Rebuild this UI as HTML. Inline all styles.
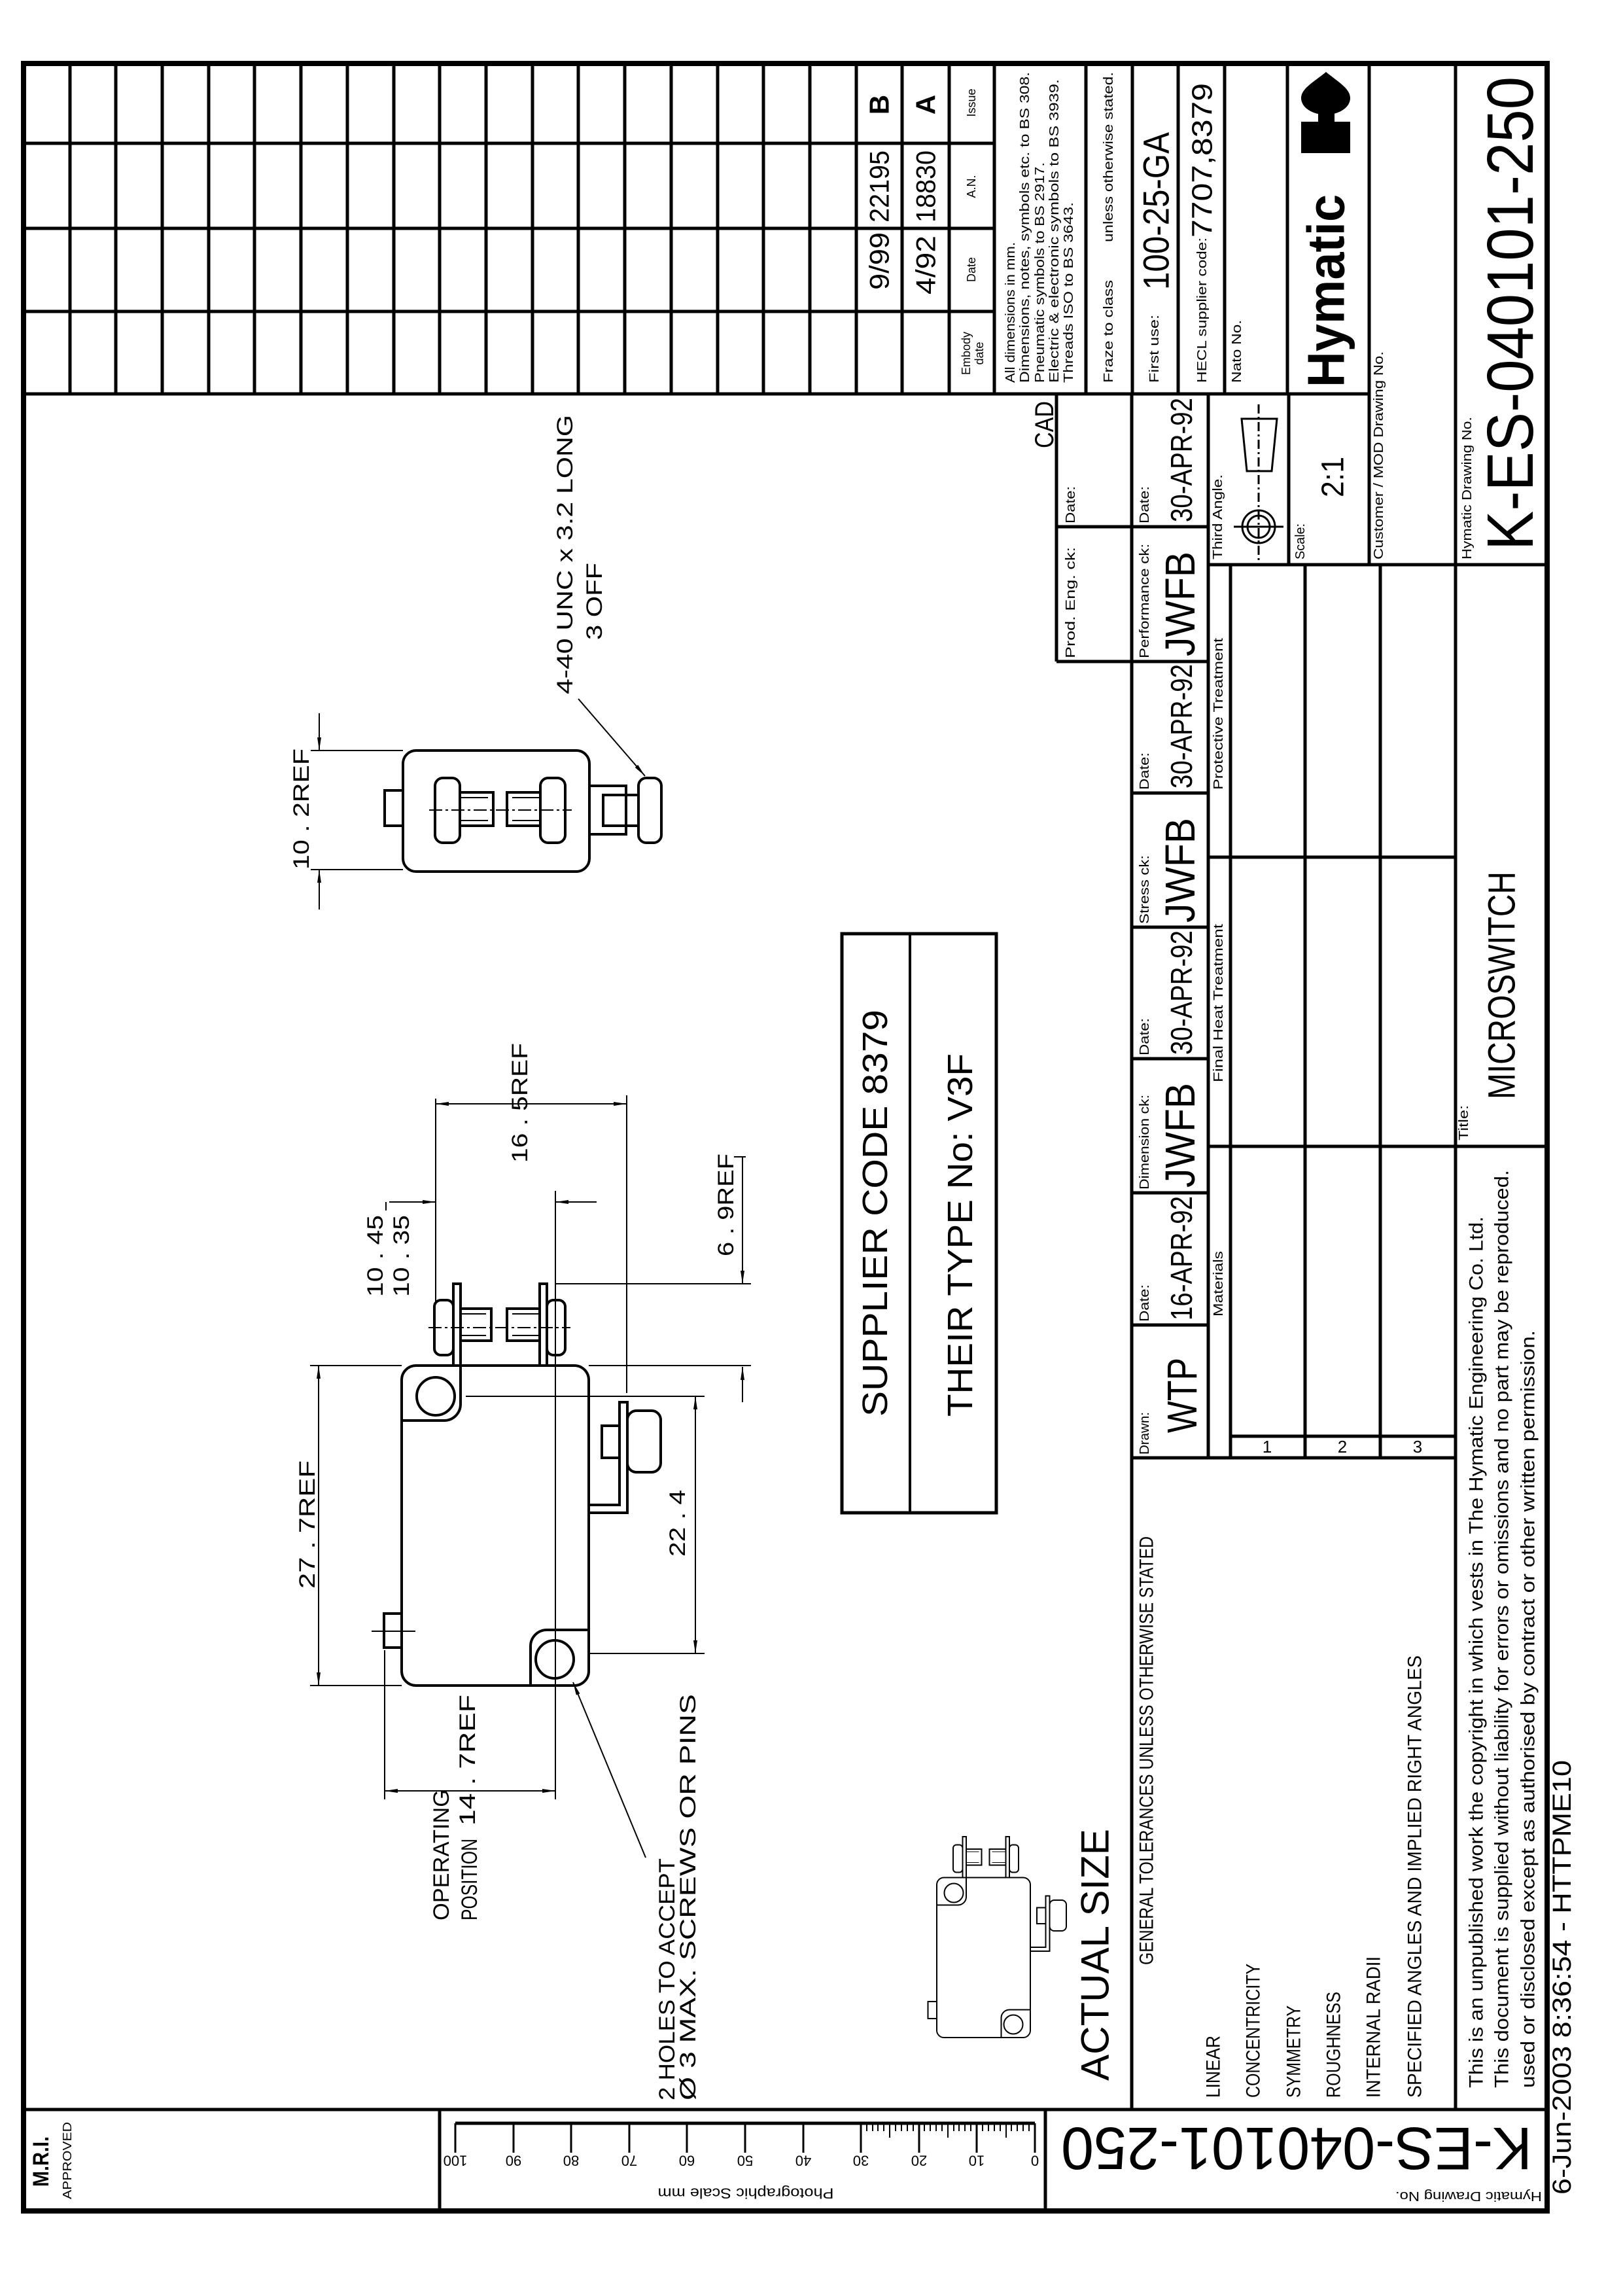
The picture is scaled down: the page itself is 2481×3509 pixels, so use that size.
<!DOCTYPE html>
<html><head><meta charset="utf-8"><style>
html,body{margin:0;padding:0;background:#fff}
svg{display:block}
text{font-family:"Liberation Sans",sans-serif;dominant-baseline:central;fill:#000}
.f{fill:none;stroke:#000}
</style></head><body>
<svg xmlns="http://www.w3.org/2000/svg" width="2481" height="3509" viewBox="0 0 2481 3509">
<defs>
<marker id="a" viewBox="0 0 20 6" refX="20" refY="3" markerWidth="20" markerHeight="6" markerUnits="userSpaceOnUse" orient="auto-start-reverse"><path d="M0,0 L20,3 L0,6 Z" fill="#000"/></marker>
</defs>
<rect width="2481" height="3509" fill="#fff"/>
<g class="f" stroke-width="8"><rect x="36" y="97" width="2329" height="3282"/></g>
<g class="f" stroke-width="5">
<line x1="36" y1="3224" x2="2365" y2="3224"/>
<line x1="672" y1="3224" x2="672" y2="3379"/>
<line x1="1598" y1="3224" x2="1598" y2="3379"/>
<line x1="36" y1="219" x2="1520" y2="219"/><line x1="36" y1="349" x2="1520" y2="349"/><line x1="36" y1="476" x2="1520" y2="476"/>
<line x1="36" y1="602" x2="2093" y2="602"/>
<line x1="107" y1="97" x2="107" y2="602"/><line x1="177" y1="97" x2="177" y2="602"/><line x1="248" y1="97" x2="248" y2="602"/><line x1="319" y1="97" x2="319" y2="602"/><line x1="389" y1="97" x2="389" y2="602"/><line x1="460" y1="97" x2="460" y2="602"/><line x1="531" y1="97" x2="531" y2="602"/><line x1="602" y1="97" x2="602" y2="602"/><line x1="672" y1="97" x2="672" y2="602"/><line x1="743" y1="97" x2="743" y2="602"/><line x1="814" y1="97" x2="814" y2="602"/><line x1="884" y1="97" x2="884" y2="602"/><line x1="955" y1="97" x2="955" y2="602"/><line x1="1026" y1="97" x2="1026" y2="602"/><line x1="1097" y1="97" x2="1097" y2="602"/><line x1="1167" y1="97" x2="1167" y2="602"/><line x1="1238" y1="97" x2="1238" y2="602"/>
<line x1="1309" y1="97" x2="1309" y2="602"/><line x1="1379" y1="97" x2="1379" y2="602"/><line x1="1451" y1="97" x2="1451" y2="602"/><line x1="1520" y1="97" x2="1520" y2="602"/><line x1="1660" y1="97" x2="1660" y2="602"/><line x1="1731" y1="97" x2="1731" y2="602"/><line x1="1801" y1="97" x2="1801" y2="602"/><line x1="1872" y1="97" x2="1872" y2="602"/><line x1="1968" y1="97" x2="1968" y2="602"/>
<line x1="2093" y1="97" x2="2093" y2="863"/>
<line x1="2225" y1="97" x2="2225" y2="3224"/>
<line x1="1847" y1="863" x2="2365" y2="863"/>
<line x1="1615" y1="602" x2="1615" y2="1011"/>
<line x1="1615" y1="805" x2="1847" y2="805"/><line x1="1615" y1="1011" x2="1847" y2="1011"/>
<line x1="1730" y1="602" x2="1730" y2="3224"/>
<line x1="1847" y1="602" x2="1847" y2="2228"/>
<line x1="1730" y1="1212" x2="1847" y2="1212"/><line x1="1730" y1="1417" x2="1847" y2="1417"/><line x1="1730" y1="1618" x2="1847" y2="1618"/><line x1="1730" y1="1823" x2="1847" y2="1823"/><line x1="1730" y1="2025" x2="1847" y2="2025"/>
<line x1="1970" y1="602" x2="1970" y2="863"/>
<line x1="1881" y1="863" x2="1881" y2="2228"/><line x1="1995" y1="863" x2="1995" y2="2228"/><line x1="2110" y1="863" x2="2110" y2="2228"/>
<line x1="1847" y1="1310" x2="2225" y2="1310"/><line x1="1847" y1="1752" x2="2365" y2="1752"/>
<line x1="1881" y1="2195" x2="2225" y2="2195"/><line x1="1730" y1="2228" x2="2225" y2="2228"/>
</g>
<g class="f" stroke-width="3">
<line x1="696" y1="3245" x2="1582" y2="3245" stroke-width="5"/>
<path d="M1582 3245V3290M1493 3245V3290M1405 3245V3290M1316 3245V3290M1228 3245V3290M1139 3245V3290M1050 3245V3290M962 3245V3290M873 3245V3290M785 3245V3290M696 3245V3290"/>
<path stroke-width="2" d="M1573 3245v12M1564 3245v12M1555 3245v12M1546 3245v12M1538 3245v22M1529 3245v12M1520 3245v12M1511 3245v12M1502 3245v12M1484 3245v12M1475 3245v12M1466 3245v12M1458 3245v12M1449 3245v22M1440 3245v12M1431 3245v12M1422 3245v12M1413 3245v12M1396 3245v12M1387 3245v12M1378 3245v12M1369 3245v12M1360 3245v22M1351 3245v12M1342 3245v12M1334 3245v12M1325 3245v12"/>
</g>
<g font-size="22">
<text transform="translate(1582,3302) rotate(180)" text-anchor="middle">0</text>
<text transform="translate(1493,3302) rotate(180)" text-anchor="middle">10</text>
<text transform="translate(1405,3302) rotate(180)" text-anchor="middle">20</text>
<text transform="translate(1316,3302) rotate(180)" text-anchor="middle">30</text>
<text transform="translate(1228,3302) rotate(180)" text-anchor="middle">40</text>
<text transform="translate(1139,3302) rotate(180)" text-anchor="middle">50</text>
<text transform="translate(1050,3302) rotate(180)" text-anchor="middle">60</text>
<text transform="translate(962,3302) rotate(180)" text-anchor="middle">70</text>
<text transform="translate(873,3302) rotate(180)" text-anchor="middle">80</text>
<text transform="translate(785,3302) rotate(180)" text-anchor="middle">90</text>
<text transform="translate(696,3302) rotate(180)" text-anchor="middle">100</text>
<text transform="translate(1140,3352) rotate(180)" text-anchor="middle" textLength="269" lengthAdjust="spacingAndGlyphs">Photographic Scale mm</text>
<text transform="translate(2245,3356) rotate(180)" text-anchor="middle" font-size="20" textLength="224" lengthAdjust="spacingAndGlyphs">Hymatic Drawing No.</text>
</g>
<text transform="translate(1982,3283) rotate(180)" text-anchor="middle" font-size="92" textLength="720" lengthAdjust="spacingAndGlyphs">K-ES-040101-250</text>
<text transform="translate(63,3342) rotate(-90)" font-size="34" font-weight="bold" textLength="77" lengthAdjust="spacingAndGlyphs">M.R.I.</text>
<text transform="translate(103,3361) rotate(-90)" font-size="18" textLength="118" lengthAdjust="spacingAndGlyphs">APPROVED</text>
<text transform="translate(2388,3354) rotate(-90)" font-size="40" textLength="664" lengthAdjust="spacingAndGlyphs">6-Jun-2003  8:36:54 - HTTPME10</text>

<g font-size="42">
<text transform="translate(1344,160) rotate(-90)" text-anchor="middle" font-weight="bold">B</text>
<text transform="translate(1415,160) rotate(-90)" text-anchor="middle" font-weight="bold">A</text>
<text transform="translate(1344,340) rotate(-90)" textLength="110" lengthAdjust="spacingAndGlyphs">22195</text>
<text transform="translate(1415,340) rotate(-90)" textLength="110" lengthAdjust="spacingAndGlyphs">18830</text>
<text transform="translate(1344,443) rotate(-90)" textLength="88" lengthAdjust="spacingAndGlyphs">9/99</text>
<text transform="translate(1415,450) rotate(-90)" textLength="90" lengthAdjust="spacingAndGlyphs">4/92</text>
</g>
<g font-size="18">
<text transform="translate(1485,157) rotate(-90)" text-anchor="middle">Issue</text>
<text transform="translate(1485,285) rotate(-90)" text-anchor="middle">A.N.</text>
<text transform="translate(1485,412) rotate(-90)" text-anchor="middle">Date</text>
<text transform="translate(1477,540) rotate(-90)" text-anchor="middle">Embody</text>
<text transform="translate(1497,540) rotate(-90)" text-anchor="middle">date</text>
</g>
<g font-size="20">
<text transform="translate(1545,585) rotate(-90)" textLength="215" lengthAdjust="spacingAndGlyphs">All dimensions in mm.</text>
<text transform="translate(1567,585) rotate(-90)" textLength="475" lengthAdjust="spacingAndGlyphs">Dimensions, notes, symbols etc. to BS 308.</text>
<text transform="translate(1590,585) rotate(-90)" textLength="337" lengthAdjust="spacingAndGlyphs">Pneumatic symbols to BS 2917.</text>
<text transform="translate(1612,585) rotate(-90)" textLength="464" lengthAdjust="spacingAndGlyphs">Electric &amp; electronic symbols to BS 3939.</text>
<text transform="translate(1634,585) rotate(-90)" textLength="276" lengthAdjust="spacingAndGlyphs">Threads ISO to BS 3643.</text>
<text transform="translate(1695,585) rotate(-90)" textLength="157" lengthAdjust="spacingAndGlyphs">Fraze to class</text>
<text transform="translate(1695,370) rotate(-90)" textLength="260" lengthAdjust="spacingAndGlyphs">unless otherwise stated.</text>
<text transform="translate(1765,585) rotate(-90)" textLength="104" lengthAdjust="spacingAndGlyphs">First use:</text>
<text transform="translate(1838,585) rotate(-90)" textLength="222" lengthAdjust="spacingAndGlyphs">HECL supplier code:</text>
<text transform="translate(1891,585) rotate(-90)" textLength="96" lengthAdjust="spacingAndGlyphs">Nato No.</text>
<text transform="translate(2108,855) rotate(-90)" textLength="318" lengthAdjust="spacingAndGlyphs">Customer / MOD Drawing No.</text>
<text transform="translate(2243,855) rotate(-90)" textLength="218" lengthAdjust="spacingAndGlyphs">Hymatic Drawing No.</text>
<text transform="translate(1862,855) rotate(-90)" textLength="130" lengthAdjust="spacingAndGlyphs">Third Angle.</text>
<text transform="translate(1988,855) rotate(-90)" textLength="55" lengthAdjust="spacingAndGlyphs">Scale:</text>
<text transform="translate(2238,1743) rotate(-90)" textLength="54" lengthAdjust="spacingAndGlyphs">Title:</text>
<text transform="translate(1863,1207) rotate(-90)" textLength="232" lengthAdjust="spacingAndGlyphs">Protective Treatment</text>
<text transform="translate(1863,1654) rotate(-90)" textLength="242" lengthAdjust="spacingAndGlyphs">Final Heat Treatment</text>
<text transform="translate(1863,2012) rotate(-90)" textLength="100" lengthAdjust="spacingAndGlyphs">Materials</text>
<text transform="translate(1637,1006) rotate(-90)" textLength="170" lengthAdjust="spacingAndGlyphs">Prod. Eng. ck:</text>
<text transform="translate(1637,800) rotate(-90)" textLength="57" lengthAdjust="spacingAndGlyphs">Date:</text>
<text transform="translate(1750,800) rotate(-90)" textLength="57" lengthAdjust="spacingAndGlyphs">Date:</text>
<text transform="translate(1750,1006) rotate(-90)" textLength="175" lengthAdjust="spacingAndGlyphs">Performance ck:</text>
<text transform="translate(1750,1207) rotate(-90)" textLength="57" lengthAdjust="spacingAndGlyphs">Date:</text>
<text transform="translate(1750,1412) rotate(-90)" textLength="105" lengthAdjust="spacingAndGlyphs">Stress ck:</text>
<text transform="translate(1750,1613) rotate(-90)" textLength="57" lengthAdjust="spacingAndGlyphs">Date:</text>
<text transform="translate(1750,1818) rotate(-90)" textLength="145" lengthAdjust="spacingAndGlyphs">Dimension ck:</text>
<text transform="translate(1750,2020) rotate(-90)" textLength="57" lengthAdjust="spacingAndGlyphs">Date:</text>
<text transform="translate(1750,2223) rotate(-90)" textLength="65" lengthAdjust="spacingAndGlyphs">Drawn:</text>
</g>
<g font-size="46">
<text transform="translate(1806,798) rotate(-90)" textLength="190" lengthAdjust="spacingAndGlyphs">30-APR-92</text>
<text transform="translate(1806,1205) rotate(-90)" textLength="190" lengthAdjust="spacingAndGlyphs">30-APR-92</text>
<text transform="translate(1806,1612) rotate(-90)" textLength="190" lengthAdjust="spacingAndGlyphs">30-APR-92</text>
<text transform="translate(1806,2018) rotate(-90)" textLength="190" lengthAdjust="spacingAndGlyphs">16-APR-92</text>
</g>
<g font-size="64">
<text transform="translate(1804,1003) rotate(-90)" textLength="160" lengthAdjust="spacingAndGlyphs">JWFB</text>
<text transform="translate(1804,1410) rotate(-90)" textLength="160" lengthAdjust="spacingAndGlyphs">JWFB</text>
<text transform="translate(1804,1815) rotate(-90)" textLength="160" lengthAdjust="spacingAndGlyphs">JWFB</text>
<text transform="translate(1807,2190) rotate(-90)" textLength="115" lengthAdjust="spacingAndGlyphs">WTP</text>
</g>
<text transform="translate(1597,685) rotate(-90)" font-size="40" textLength="72" lengthAdjust="spacingAndGlyphs">CAD</text>
<text transform="translate(1767,443) rotate(-90)" font-size="56" textLength="241" lengthAdjust="spacingAndGlyphs">100-25-GA</text>
<text transform="translate(1838,363) rotate(-90)" font-size="44" textLength="236" lengthAdjust="spacingAndGlyphs">7707,8379</text>
<text transform="translate(2027,592) rotate(-90)" font-size="80" font-weight="bold" textLength="295" lengthAdjust="spacingAndGlyphs">Hymatic</text>
<path d="M2027,110 C2045,125 2064,135 2064,150 A37 25 0 0 1 1989,150 C1989,135 2009,125 2027,110 Z" fill="#000"/>
<rect x="2015" y="170" width="25" height="20" fill="#000"/>
<rect x="1989" y="186" width="75" height="48" fill="#000"/>
<text transform="translate(2309,841) rotate(-90)" font-size="100" textLength="724" lengthAdjust="spacingAndGlyphs">K-ES-040101-250</text>
<text transform="translate(2038,729) rotate(-90)" text-anchor="middle" font-size="48" textLength="62" lengthAdjust="spacingAndGlyphs">2:1</text>
<text transform="translate(2296,1680) rotate(-90)" font-size="58" textLength="348" lengthAdjust="spacingAndGlyphs">MICROSWITCH</text>
<g class="f" stroke-width="3">
<circle cx="1924" cy="805" r="25"/><circle cx="1924" cy="805" r="17"/>
<line x1="1886" y1="805" x2="1962" y2="805"/>
<line x1="1924" y1="618" x2="1924" y2="859" stroke-dasharray="14 5 3 5"/>
<path d="M1898,640 L1952,640 L1944,720 L1906,720 Z"/>
</g>
<g font-size="26">
<text x="1937" y="2211" text-anchor="middle">1</text>
<text x="2052" y="2211" text-anchor="middle">2</text>
<text x="2167" y="2211" text-anchor="middle">3</text>
</g>
<g font-size="30">
<text transform="translate(1753,3003) rotate(-90)" textLength="655" lengthAdjust="spacingAndGlyphs">GENERAL TOLERANCES UNLESS OTHERWISE STATED</text>
<text transform="translate(1855,3206) rotate(-90)" textLength="95" lengthAdjust="spacingAndGlyphs">LINEAR</text>
<text transform="translate(1916,3206) rotate(-90)" textLength="205" lengthAdjust="spacingAndGlyphs">CONCENTRICITY</text>
<text transform="translate(1978,3206) rotate(-90)" textLength="141" lengthAdjust="spacingAndGlyphs">SYMMETRY</text>
<text transform="translate(2039,3206) rotate(-90)" textLength="162" lengthAdjust="spacingAndGlyphs">ROUGHNESS</text>
<text transform="translate(2100,3206) rotate(-90)" textLength="216" lengthAdjust="spacingAndGlyphs">INTERNAL RADII</text>
<text transform="translate(2163,3206) rotate(-90)" textLength="676" lengthAdjust="spacingAndGlyphs">SPECIFIED ANGLES AND IMPLIED RIGHT ANGLES</text>
<text transform="translate(2257,3191) rotate(-90)" textLength="1332" lengthAdjust="spacingAndGlyphs">This is an unpublished work the copyright in which vests in The Hymatic Engineering Co. Ltd.</text>
<text transform="translate(2296,3191) rotate(-90)" textLength="1403" lengthAdjust="spacingAndGlyphs">This document is supplied without liability for errors or omissions and no part may be reproduced.</text>
<text transform="translate(2336,3191) rotate(-90)" textLength="1158" lengthAdjust="spacingAndGlyphs">used or disclosed except as authorised by contract or other written permission.</text>
</g>
<text transform="translate(1674,3180) rotate(-90)" font-size="60" textLength="385" lengthAdjust="spacingAndGlyphs">ACTUAL SIZE</text>

<rect x="1287" y="1427" width="236" height="885" class="f" stroke-width="5"/>
<line x1="1391" y1="1427" x2="1391" y2="2312" stroke="#000" stroke-width="4"/>
<text transform="translate(1338,2165) rotate(-90)" font-size="54" textLength="622" lengthAdjust="spacingAndGlyphs">SUPPLIER CODE 8379</text>
<text transform="translate(1468,2165) rotate(-90)" font-size="54" textLength="555" lengthAdjust="spacingAndGlyphs">THEIR TYPE No: V3F</text>

<g id="sw" class="f" stroke-width="4">
<rect x="614" y="2087" width="286" height="489" rx="22"/>
<path d="M704,2087 V2146 A25 25 0 0 1 679,2171 H614"/>
<circle cx="666" cy="2134" r="29"/>
<path d="M811,2576 V2516 A25 25 0 0 1 836,2491 H900"/>
<circle cx="848" cy="2536" r="29"/>
<rect x="587" y="2466" width="27" height="52"/>
<rect x="693" y="1962" width="11" height="125"/>
<rect x="664" y="1987" width="29" height="84" rx="10"/>
<rect x="704" y="2000" width="47" height="49"/>
<line x1="704" y1="2008" x2="743" y2="2008" stroke-width="2"/><line x1="704" y1="2041" x2="743" y2="2041" stroke-width="2"/>
<rect x="825" y="1962" width="11" height="125"/>
<rect x="836" y="1987" width="28" height="84" rx="10"/>
<rect x="775" y="2000" width="50" height="49"/>
<line x1="783" y1="2008" x2="825" y2="2008" stroke-width="2"/><line x1="783" y1="2041" x2="825" y2="2041" stroke-width="2"/>
<path d="M900,2312 H959 V2143 H947 V2300 H900"/>
<rect x="959" y="2156" width="51" height="94" rx="14"/>
<rect x="920" y="2179" width="27" height="49"/>
</g>
<use href="#sw" transform="translate(1125,1826) scale(0.5)"/>
<g class="f" stroke-width="2">
<line x1="655" y1="2029" x2="872" y2="2029" stroke-dasharray="20 5 4 5"/>
<line x1="568" y1="2493" x2="635" y2="2493"/>
<line x1="487" y1="2087" x2="487" y2="2576" marker-start="url(#a)" marker-end="url(#a)"/>
<line x1="474" y1="2087" x2="614" y2="2087"/><line x1="474" y1="2576" x2="614" y2="2576"/>
<line x1="1063" y1="2134" x2="1063" y2="2527" marker-start="url(#a)" marker-end="url(#a)"/>
<line x1="712" y1="2134" x2="1077" y2="2134"/><line x1="900" y1="2527" x2="1077" y2="2527"/>
<line x1="666" y1="1687" x2="958" y2="1687" marker-start="url(#a)" marker-end="url(#a)"/>
<line x1="666" y1="1679" x2="666" y2="1990"/><line x1="958" y1="1674" x2="958" y2="2129"/>
<line x1="595" y1="1837" x2="666" y2="1837" marker-end="url(#a)"/>
<line x1="590" y1="1837" x2="590" y2="1850"/>
<line x1="912" y1="1837" x2="849" y2="1837" marker-end="url(#a)"/>
<line x1="849" y1="1820" x2="849" y2="2750"/>
<line x1="1135" y1="1768" x2="1135" y2="1962" marker-end="url(#a)"/>
<line x1="1135" y1="2143" x2="1135" y2="2089" marker-end="url(#a)"/>
<line x1="849" y1="1962" x2="1148" y2="1962"/><line x1="900" y1="2087" x2="1148" y2="2087"/>
<line x1="1122" y1="1768" x2="1140" y2="1768"/>
<line x1="588" y1="2737" x2="849" y2="2737" marker-start="url(#a)" marker-end="url(#a)"/>
<line x1="588" y1="2522" x2="588" y2="2750"/>
<line x1="987" y1="2839" x2="876" y2="2571" marker-end="url(#a)"/>
</g>
<g font-size="34">
<text transform="translate(470,2428) rotate(-90)" textLength="196" lengthAdjust="spacingAndGlyphs">27 . 7REF</text>
<text transform="translate(1036,2379) rotate(-90)" textLength="102" lengthAdjust="spacingAndGlyphs">22 . 4</text>
<text transform="translate(795,1777) rotate(-90)" textLength="183" lengthAdjust="spacingAndGlyphs">16 . 5REF</text>
<text transform="translate(574,1982) rotate(-90)" textLength="125" lengthAdjust="spacingAndGlyphs">10 . 45</text>
<text transform="translate(614,1982) rotate(-90)" textLength="125" lengthAdjust="spacingAndGlyphs">10 . 35</text>
<text transform="translate(1110,1920) rotate(-90)" textLength="157" lengthAdjust="spacingAndGlyphs">6 . 9REF</text>
<text transform="translate(715,2790) rotate(-90)" textLength="200" lengthAdjust="spacingAndGlyphs">14 .  7REF</text>
<text transform="translate(675,2935) rotate(-90)" textLength="200" lengthAdjust="spacingAndGlyphs">OPERATING</text>
<text transform="translate(718,2935) rotate(-90)" textLength="125" lengthAdjust="spacingAndGlyphs">POSITION</text>
<text transform="translate(1020,3210) rotate(-90)" textLength="370" lengthAdjust="spacingAndGlyphs">2 HOLES TO ACCEPT</text>
<text transform="translate(1052,3210) rotate(-90)" textLength="621" lengthAdjust="spacingAndGlyphs">Ø 3 MAX. SCREWS OR PINS</text>
<text transform="translate(461,1329) rotate(-90)" textLength="185" lengthAdjust="spacingAndGlyphs">10 . 2REF</text>
<text transform="translate(864,1061) rotate(-90)" textLength="427" lengthAdjust="spacingAndGlyphs">4-40 UNC x 3.2 LONG</text>
<text transform="translate(909,978) rotate(-90)" textLength="118" lengthAdjust="spacingAndGlyphs">3 OFF</text>
</g>
<g class="f" stroke-width="4">
<rect x="616" y="1147" width="285" height="185" rx="20"/>
<rect x="588" y="1208" width="28" height="54"/>
<rect x="665" y="1189" width="38" height="99" rx="12"/>
<rect x="703" y="1211" width="51" height="51"/>
<line x1="703" y1="1219" x2="746" y2="1219" stroke-width="2"/><line x1="703" y1="1254" x2="746" y2="1254" stroke-width="2"/>
<rect x="775" y="1211" width="51" height="51"/>
<line x1="783" y1="1219" x2="826" y2="1219" stroke-width="2"/><line x1="783" y1="1254" x2="826" y2="1254" stroke-width="2"/>
<rect x="826" y="1189" width="38" height="99" rx="12"/>
<rect x="901" y="1201" width="56" height="74"/>
<rect x="922" y="1215" width="35" height="47"/>
<rect x="957" y="1215" width="19" height="47"/>
<rect x="976" y="1189" width="35" height="99" rx="12"/>
</g>
<g class="f" stroke-width="2">
<line x1="656" y1="1238" x2="874" y2="1238" stroke-dasharray="20 5 4 5"/>
<line x1="488" y1="1090" x2="488" y2="1147" marker-end="url(#a)"/>
<line x1="488" y1="1390" x2="488" y2="1329" marker-end="url(#a)"/>
<line x1="475" y1="1147" x2="616" y2="1147"/><line x1="475" y1="1329" x2="616" y2="1329"/>
<line x1="884" y1="1068" x2="986" y2="1186" marker-end="url(#a)"/>
</g>
</svg>
</body></html>
